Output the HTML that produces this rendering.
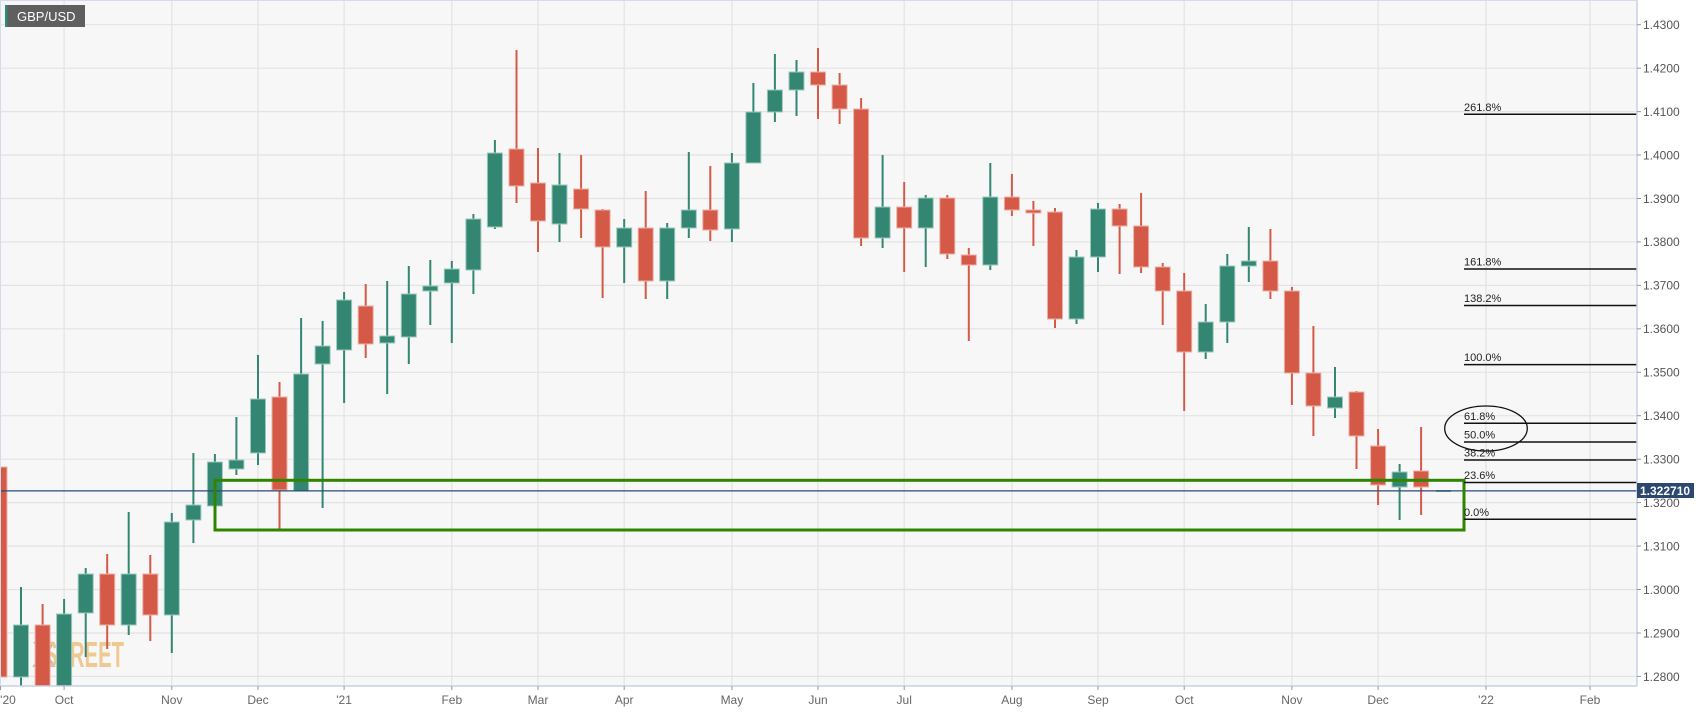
<!DOCTYPE html>
<html><head><meta charset="utf-8"><style>
html,body{margin:0;padding:0;background:#fff;}
svg{display:block;font-family:"Liberation Sans",sans-serif;}
.g{fill:#328672}.r{fill:#d45a47}
.bg{stroke:#9cc8bd;stroke-width:1}.br{stroke:#eeb0a6;stroke-width:1}
.yl{font-size:12px;fill:#555}
.xl{font-size:12px;fill:#666;text-anchor:middle}
.fl{font-size:11px;fill:#222}
</style></head><body>
<svg width="1707" height="712" viewBox="0 0 1707 712" xmlns="http://www.w3.org/2000/svg">
<defs><clipPath id="c"><rect x="0" y="0" width="1637" height="686"/></clipPath></defs>
<rect x="0" y="0" width="1637" height="686" fill="#f7f7f7"/>
<g stroke="#e3e3e3" stroke-width="1.2">
<line x1="0" y1="24.7" x2="1637" y2="24.7"/><line x1="0" y1="68.2" x2="1637" y2="68.2"/><line x1="0" y1="111.6" x2="1637" y2="111.6"/><line x1="0" y1="155" x2="1637" y2="155"/><line x1="0" y1="198.5" x2="1637" y2="198.5"/><line x1="0" y1="241.9" x2="1637" y2="241.9"/><line x1="0" y1="285.4" x2="1637" y2="285.4"/><line x1="0" y1="328.8" x2="1637" y2="328.8"/><line x1="0" y1="372.3" x2="1637" y2="372.3"/><line x1="0" y1="415.7" x2="1637" y2="415.7"/><line x1="0" y1="459.2" x2="1637" y2="459.2"/><line x1="0" y1="502.6" x2="1637" y2="502.6"/><line x1="0" y1="546.1" x2="1637" y2="546.1"/><line x1="0" y1="589.5" x2="1637" y2="589.5"/><line x1="0" y1="633" x2="1637" y2="633"/><line x1="0" y1="676.4" x2="1637" y2="676.4"/>
<line x1="64.1" y1="0" x2="64.1" y2="686"/><line x1="171.8" y1="0" x2="171.8" y2="686"/><line x1="258" y1="0" x2="258" y2="686"/><line x1="344.1" y1="0" x2="344.1" y2="686"/><line x1="451.8" y1="0" x2="451.8" y2="686"/><line x1="538" y1="0" x2="538" y2="686"/><line x1="624.2" y1="0" x2="624.2" y2="686"/><line x1="731.9" y1="0" x2="731.9" y2="686"/><line x1="818" y1="0" x2="818" y2="686"/><line x1="904.2" y1="0" x2="904.2" y2="686"/><line x1="1011.9" y1="0" x2="1011.9" y2="686"/><line x1="1098" y1="0" x2="1098" y2="686"/><line x1="1184.2" y1="0" x2="1184.2" y2="686"/><line x1="1291.9" y1="0" x2="1291.9" y2="686"/><line x1="1378.1" y1="0" x2="1378.1" y2="686"/><line x1="1486" y1="0" x2="1486" y2="686"/><line x1="1590" y1="0" x2="1590" y2="686"/>
</g>
<text x="32" y="667" font-size="36" fill="#a0a0a0" opacity="0.7" font-weight="bold">X</text>
<text x="44" y="667" font-size="36" fill="#f0c488" opacity="0.9" font-weight="bold" textLength="80" lengthAdjust="spacingAndGlyphs">STREET</text>
<g clip-path="url(#c)">
<g class="r"><rect x="-1.5" y="467" width="2" height="223"/><rect class="br" x="-8" y="467" width="15" height="210"/></g>
<g class="g"><rect x="20" y="587" width="2" height="103"/><rect class="bg" x="13.5" y="625" width="15" height="52"/></g>
<g class="r"><rect x="41.6" y="604" width="2" height="86"/><rect class="br" x="35.1" y="625" width="15" height="65"/></g>
<g class="g"><rect x="63.1" y="599" width="2" height="91"/><rect class="bg" x="56.6" y="614" width="15" height="76"/></g>
<g class="g"><rect x="84.7" y="568" width="2" height="89"/><rect class="bg" x="78.2" y="574" width="15" height="39"/></g>
<g class="r"><rect x="106.2" y="554" width="2" height="95"/><rect class="br" x="99.7" y="574" width="15" height="51"/></g>
<g class="g"><rect x="127.7" y="512" width="2" height="123"/><rect class="bg" x="121.2" y="574" width="15" height="51"/></g>
<g class="r"><rect x="149.3" y="555" width="2" height="86"/><rect class="br" x="142.8" y="574" width="15" height="41"/></g>
<g class="g"><rect x="170.8" y="513" width="2" height="140"/><rect class="bg" x="164.3" y="522" width="15" height="93"/></g>
<g class="g"><rect x="192.4" y="453" width="2" height="90"/><rect class="bg" x="185.9" y="505" width="15" height="15"/></g>
<g class="g"><rect x="213.9" y="454" width="2" height="52"/><rect class="bg" x="207.4" y="462" width="15" height="44"/></g>
<g class="g"><rect x="235.4" y="417" width="2" height="58"/><rect class="bg" x="228.9" y="460" width="15" height="9"/></g>
<g class="g"><rect x="257" y="355" width="2" height="110"/><rect class="bg" x="250.5" y="399" width="15" height="54"/></g>
<g class="r"><rect x="278.5" y="382" width="2" height="147"/><rect class="br" x="272" y="397" width="15" height="93"/></g>
<g class="g"><rect x="300.1" y="318" width="2" height="173"/><rect class="bg" x="293.6" y="374" width="15" height="117"/></g>
<g class="g"><rect x="321.6" y="321" width="2" height="187"/><rect class="bg" x="315.1" y="346" width="15" height="18"/></g>
<g class="g"><rect x="343.1" y="292" width="2" height="111"/><rect class="bg" x="336.6" y="300" width="15" height="50"/></g>
<g class="r"><rect x="364.7" y="284" width="2" height="74"/><rect class="br" x="358.2" y="306" width="15" height="38"/></g>
<g class="g"><rect x="386.2" y="281" width="2" height="113"/><rect class="bg" x="379.7" y="336" width="15" height="7"/></g>
<g class="g"><rect x="407.8" y="266" width="2" height="98"/><rect class="bg" x="401.3" y="294" width="15" height="43"/></g>
<g class="g"><rect x="429.3" y="260" width="2" height="65"/><rect class="bg" x="422.8" y="286" width="15" height="5"/></g>
<g class="g"><rect x="450.8" y="261" width="2" height="82"/><rect class="bg" x="444.3" y="269" width="15" height="14"/></g>
<g class="g"><rect x="472.4" y="214" width="2" height="80"/><rect class="bg" x="465.9" y="219" width="15" height="51"/></g>
<g class="g"><rect x="493.9" y="140" width="2" height="89"/><rect class="bg" x="487.4" y="153" width="15" height="74"/></g>
<g class="r"><rect x="515.5" y="50" width="2" height="153"/><rect class="br" x="509" y="149" width="15" height="37"/></g>
<g class="r"><rect x="537" y="148" width="2" height="104"/><rect class="br" x="530.5" y="183" width="15" height="38"/></g>
<g class="g"><rect x="558.5" y="153" width="2" height="89"/><rect class="bg" x="552" y="185" width="15" height="39"/></g>
<g class="r"><rect x="580.1" y="155" width="2" height="83"/><rect class="br" x="573.6" y="189" width="15" height="20"/></g>
<g class="r"><rect x="601.6" y="209" width="2" height="89"/><rect class="br" x="595.1" y="210" width="15" height="37"/></g>
<g class="g"><rect x="623.2" y="219" width="2" height="64"/><rect class="bg" x="616.7" y="228" width="15" height="19"/></g>
<g class="r"><rect x="644.7" y="191" width="2" height="108"/><rect class="br" x="638.2" y="228" width="15" height="53"/></g>
<g class="g"><rect x="666.2" y="223" width="2" height="76"/><rect class="bg" x="659.7" y="228" width="15" height="53"/></g>
<g class="g"><rect x="687.8" y="152" width="2" height="86"/><rect class="bg" x="681.3" y="210" width="15" height="18"/></g>
<g class="r"><rect x="709.3" y="166" width="2" height="75"/><rect class="br" x="702.8" y="210" width="15" height="20"/></g>
<g class="g"><rect x="730.9" y="153" width="2" height="89"/><rect class="bg" x="724.4" y="163" width="15" height="66"/></g>
<g class="g"><rect x="752.4" y="83" width="2" height="80"/><rect class="bg" x="745.9" y="112" width="15" height="51"/></g>
<g class="g"><rect x="773.9" y="54" width="2" height="68"/><rect class="bg" x="767.4" y="90" width="15" height="22"/></g>
<g class="g"><rect x="795.5" y="60" width="2" height="56"/><rect class="bg" x="789" y="72" width="15" height="18"/></g>
<g class="r"><rect x="817" y="48" width="2" height="71"/><rect class="br" x="810.5" y="72" width="15" height="13"/></g>
<g class="r"><rect x="838.6" y="73" width="2" height="51"/><rect class="br" x="832.1" y="85" width="15" height="24"/></g>
<g class="r"><rect x="860.1" y="98" width="2" height="148"/><rect class="br" x="853.6" y="109" width="15" height="129"/></g>
<g class="g"><rect x="881.6" y="155" width="2" height="93"/><rect class="bg" x="875.1" y="207" width="15" height="31"/></g>
<g class="r"><rect x="903.2" y="182" width="2" height="90"/><rect class="br" x="896.7" y="207" width="15" height="21"/></g>
<g class="g"><rect x="924.7" y="195" width="2" height="72"/><rect class="bg" x="918.2" y="198" width="15" height="30"/></g>
<g class="r"><rect x="946.3" y="195" width="2" height="64"/><rect class="br" x="939.8" y="198" width="15" height="56"/></g>
<g class="r"><rect x="967.8" y="248" width="2" height="93"/><rect class="br" x="961.3" y="255" width="15" height="10"/></g>
<g class="g"><rect x="989.3" y="163" width="2" height="107"/><rect class="bg" x="982.8" y="197" width="15" height="68"/></g>
<g class="r"><rect x="1010.9" y="174" width="2" height="42"/><rect class="br" x="1004.4" y="197" width="15" height="13"/></g>
<g class="r"><rect x="1032.4" y="201" width="2" height="45"/><rect class="br" x="1025.9" y="210" width="15" height="3"/></g>
<g class="r"><rect x="1054" y="208" width="2" height="120"/><rect class="br" x="1047.5" y="212" width="15" height="107"/></g>
<g class="g"><rect x="1075.5" y="250" width="2" height="74"/><rect class="bg" x="1069" y="257" width="15" height="62"/></g>
<g class="g"><rect x="1097" y="203" width="2" height="69"/><rect class="bg" x="1090.5" y="209" width="15" height="48"/></g>
<g class="r"><rect x="1118.6" y="204" width="2" height="70"/><rect class="br" x="1112.1" y="209" width="15" height="17"/></g>
<g class="r"><rect x="1140.1" y="193" width="2" height="80"/><rect class="br" x="1133.6" y="226" width="15" height="41"/></g>
<g class="r"><rect x="1161.7" y="263" width="2" height="62"/><rect class="br" x="1155.2" y="267" width="15" height="24"/></g>
<g class="r"><rect x="1183.2" y="273" width="2" height="138"/><rect class="br" x="1176.7" y="291" width="15" height="61"/></g>
<g class="g"><rect x="1204.7" y="304" width="2" height="55"/><rect class="bg" x="1198.2" y="322" width="15" height="30"/></g>
<g class="g"><rect x="1226.3" y="254" width="2" height="89"/><rect class="bg" x="1219.8" y="266" width="15" height="56"/></g>
<g class="g"><rect x="1247.8" y="227" width="2" height="55"/><rect class="bg" x="1241.3" y="261" width="15" height="5"/></g>
<g class="r"><rect x="1269.4" y="229" width="2" height="70"/><rect class="br" x="1262.9" y="261" width="15" height="30"/></g>
<g class="r"><rect x="1290.9" y="287" width="2" height="118"/><rect class="br" x="1284.4" y="291" width="15" height="82"/></g>
<g class="r"><rect x="1312.4" y="326" width="2" height="110"/><rect class="br" x="1305.9" y="373" width="15" height="33"/></g>
<g class="g"><rect x="1334" y="367" width="2" height="51"/><rect class="bg" x="1327.5" y="397" width="15" height="11"/></g>
<g class="r"><rect x="1355.5" y="391" width="2" height="78"/><rect class="br" x="1349" y="392" width="15" height="44"/></g>
<g class="r"><rect x="1377.1" y="429" width="2" height="76"/><rect class="br" x="1370.6" y="446" width="15" height="39"/></g>
<g class="g"><rect x="1398.6" y="464" width="2" height="56"/><rect class="bg" x="1392.1" y="472" width="15" height="15"/></g>
<g class="r"><rect x="1420.1" y="427" width="2" height="88"/><rect class="br" x="1413.6" y="471" width="15" height="16"/></g>
<rect x="1436" y="490" width="15" height="2" fill="#7fa8b8"/>
</g>
<line x1="0" y1="490.9" x2="1637" y2="490.9" stroke="#2c4a78" stroke-width="1.3"/>
<rect x="215" y="480.3" width="1249" height="49.7" fill="none" stroke="#2f8500" stroke-width="3"/>
<g stroke="#111" stroke-width="1.5">
<line x1="1464" y1="114.3" x2="1637" y2="114.3"/>
<line x1="1464" y1="269" x2="1637" y2="269"/>
<line x1="1464" y1="305.5" x2="1637" y2="305.5"/>
<line x1="1464" y1="364.6" x2="1637" y2="364.6"/>
<line x1="1464" y1="423.3" x2="1637" y2="423.3"/>
<line x1="1464" y1="442" x2="1637" y2="442"/>
<line x1="1464" y1="460" x2="1637" y2="460"/>
<line x1="1464" y1="482.5" x2="1637" y2="482.5"/>
<line x1="1464" y1="519.3" x2="1637" y2="519.3"/>
</g>
<g class="fl">
<text x="1464" y="111">261.8%</text>
<text x="1464" y="265.5">161.8%</text>
<text x="1464" y="302">138.2%</text>
<text x="1464" y="361">100.0%</text>
<text x="1464" y="420">61.8%</text>
<text x="1464" y="438.5">50.0%</text>
<text x="1464" y="456.5">38.2%</text>
<text x="1464" y="479">23.6%</text>
<text x="1464" y="516">0.0%</text>
</g>
<ellipse cx="1486" cy="428.5" rx="41.3" ry="22.5" fill="none" stroke="#111" stroke-width="1.3"/>
<line x1="1637" y1="0" x2="1637" y2="686" stroke="#c8d0e4" stroke-width="1.5"/>
<line x1="0" y1="686" x2="1637" y2="686" stroke="#c8d0e4" stroke-width="1.5"/>
<line x1="0" y1="0.5" x2="1637" y2="0.5" stroke="#d5dbea" stroke-width="1"/>
<line x1="0.5" y1="0" x2="0.5" y2="686" stroke="#d5dbea" stroke-width="1"/>
<g stroke="#999" stroke-width="1">
<line x1="1637" y1="24.7" x2="1641" y2="24.7"/><line x1="1637" y1="68.2" x2="1641" y2="68.2"/><line x1="1637" y1="111.6" x2="1641" y2="111.6"/><line x1="1637" y1="155" x2="1641" y2="155"/><line x1="1637" y1="198.5" x2="1641" y2="198.5"/><line x1="1637" y1="241.9" x2="1641" y2="241.9"/><line x1="1637" y1="285.4" x2="1641" y2="285.4"/><line x1="1637" y1="328.8" x2="1641" y2="328.8"/><line x1="1637" y1="372.3" x2="1641" y2="372.3"/><line x1="1637" y1="415.7" x2="1641" y2="415.7"/><line x1="1637" y1="459.2" x2="1641" y2="459.2"/><line x1="1637" y1="502.6" x2="1641" y2="502.6"/><line x1="1637" y1="546.1" x2="1641" y2="546.1"/><line x1="1637" y1="589.5" x2="1641" y2="589.5"/><line x1="1637" y1="633" x2="1641" y2="633"/><line x1="1637" y1="676.4" x2="1641" y2="676.4"/>
<line x1="0.5" y1="686" x2="0.5" y2="690"/><line x1="64.1" y1="686" x2="64.1" y2="690"/><line x1="171.8" y1="686" x2="171.8" y2="690"/><line x1="258" y1="686" x2="258" y2="690"/><line x1="344.1" y1="686" x2="344.1" y2="690"/><line x1="451.8" y1="686" x2="451.8" y2="690"/><line x1="538" y1="686" x2="538" y2="690"/><line x1="624.2" y1="686" x2="624.2" y2="690"/><line x1="731.9" y1="686" x2="731.9" y2="690"/><line x1="818" y1="686" x2="818" y2="690"/><line x1="904.2" y1="686" x2="904.2" y2="690"/><line x1="1011.9" y1="686" x2="1011.9" y2="690"/><line x1="1098" y1="686" x2="1098" y2="690"/><line x1="1184.2" y1="686" x2="1184.2" y2="690"/><line x1="1291.9" y1="686" x2="1291.9" y2="690"/><line x1="1378.1" y1="686" x2="1378.1" y2="690"/><line x1="1486" y1="686" x2="1486" y2="690"/><line x1="1590" y1="686" x2="1590" y2="690"/>
</g>
<g class="yl">
<text x="1643" y="29">1.4300</text><text x="1643" y="72.5">1.4200</text><text x="1643" y="116">1.4100</text><text x="1643" y="159.5">1.4000</text><text x="1643" y="203">1.3900</text><text x="1643" y="246">1.3800</text><text x="1643" y="289.5">1.3700</text><text x="1643" y="333">1.3600</text><text x="1643" y="376.5">1.3500</text><text x="1643" y="420">1.3400</text><text x="1643" y="463.5">1.3300</text><text x="1643" y="507">1.3200</text><text x="1643" y="550.5">1.3100</text><text x="1643" y="594">1.3000</text><text x="1643" y="637.5">1.2900</text><text x="1643" y="681">1.2800</text>
</g>
<rect x="1637" y="483" width="57" height="15" fill="#2c4770"/>
<text x="1640" y="495" font-size="12" font-weight="bold" fill="#fff">1.322710</text>
<g class="xl">
<text x="8" y="704">'20</text><text x="64.1" y="704">Oct</text><text x="171.8" y="704">Nov</text><text x="258" y="704">Dec</text><text x="344.1" y="704">'21</text><text x="451.8" y="704">Feb</text><text x="538" y="704">Mar</text><text x="624.2" y="704">Apr</text><text x="731.9" y="704">May</text><text x="818" y="704">Jun</text><text x="904.2" y="704">Jul</text><text x="1011.9" y="704">Aug</text><text x="1098" y="704">Sep</text><text x="1184.2" y="704">Oct</text><text x="1291.9" y="704">Nov</text><text x="1378.1" y="704">Dec</text><text x="1486" y="704">'22</text><text x="1590" y="704">Feb</text>
</g>
<rect x="5" y="5" width="80" height="22" fill="#5f5f5f"/>
<rect x="5" y="5" width="2.5" height="22" fill="#2f8a72"/>
<text x="17" y="21" font-size="13" fill="#fff">GBP/USD</text>
</svg>
</body></html>
